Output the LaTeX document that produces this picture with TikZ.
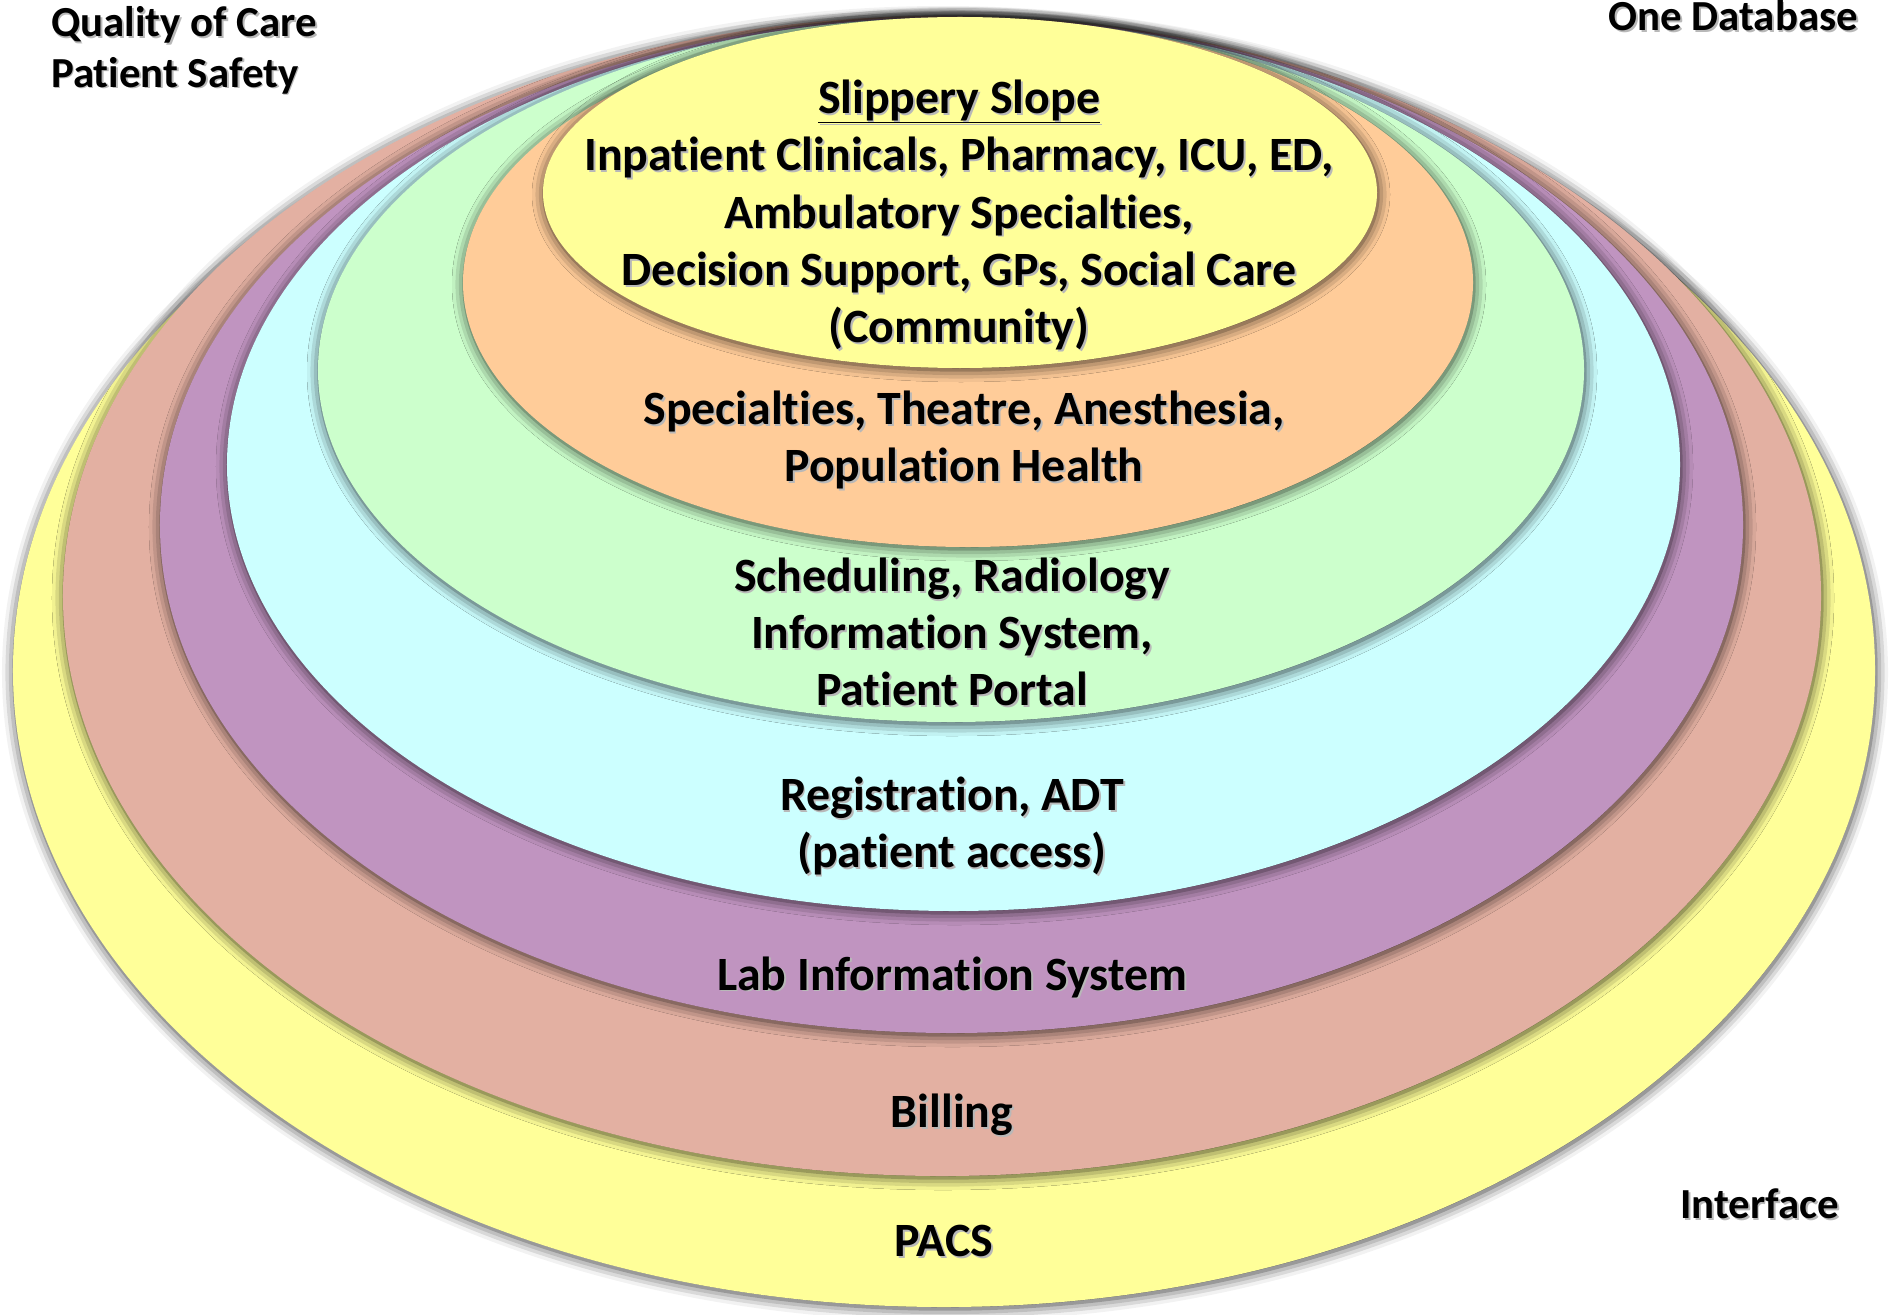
\documentclass[tikz,border=0pt]{standalone}
\usepackage{fontspec}
\setmainfont{Carlito}[Ligatures=CommonOff]
\usepackage{tikz}
\usetikzlibrary{shadows.blur}

\definecolor{pacsfill}{HTML}{FFFF99}
\definecolor{billfill}{HTML}{E3B0A2}
\definecolor{labfill}{HTML}{C094C0}
\definecolor{regfill}{HTML}{CCFFFF}
\definecolor{schedfill}{HTML}{CCFFCC}
\definecolor{specfill}{HTML}{FFCC99}
\definecolor{clinfill}{HTML}{FFFF99}

% text with a soft drop shadow
\newcommand{\shtxt}[1]{\leavevmode\rlap{\hspace{1.8bp}\raisebox{-1.8bp}{\textcolor{black!28}{#1}}}#1}

\tikzset{
  ring/.style={fill=#1,blur shadow={shadow xshift=1bp,shadow yshift=-2bp,shadow blur radius=12bp,shadow opacity=80}},
  lbl/.style={align=center,inner sep=0pt,font=\fontsize{48}{57.5}\selectfont\bfseries},
  corner/.style={align=left,inner sep=0pt,font=\fontsize{43}{51}\selectfont\bfseries},
}

\begin{document}
\begin{tikzpicture}[x=1bp,y=1bp]
\useasboundingbox (0,0) rectangle (1897,-1315);
%% layers, outermost first
\path [ring=pacsfill]  (944,-670.5) ellipse [x radius=931bp, y radius=636.5bp];
\path [ring=billfill]  (942,-596) ellipse [x radius=879bp, y radius=580bp];
\path [ring=labfill]   (951.5,-525) ellipse [x radius=791.5bp, y radius=508bp];
\path [ring=regfill]   (953.5,-464.5) ellipse [x radius=726.5bp, y radius=446.5bp];
\path [ring=schedfill] (951,-370) ellipse [x radius=633bp, y radius=352bp];
\path [ring=specfill]  (968,-282.5) ellipse [x radius=505bp, y radius=264.5bp];
\path [ring=clinfill]  (960,-192.5) ellipse [x radius=417bp, y radius=175.5bp];
%% labels
\node (clin) at (959,-216) [lbl] {\shtxt{\underline{Slippery Slope}}\\\shtxt{Inpatient Clinicals, Pharmacy, ICU, ED,}\\\shtxt{Ambulatory Specialties,}\\\shtxt{Decision Support, GPs, Social Care}\\\shtxt{(Community)}};
\node (spec) at (964,-441) [lbl] {\shtxt{Specialties, Theatre, Anesthesia,}\\\shtxt{Population Health}};
\node (sched) at (952,-633) [lbl] {\shtxt{Scheduling, Radiology}\\\shtxt{Information System,}\\\shtxt{Patient Portal}};
\node (reg) at (952,-827) [lbl] {\shtxt{Registration, ADT}\\\shtxt{(patient access)}};
\node (lab) at (952,-978) [lbl] {\shtxt{Lab Information System}};
\node (bill) at (952,-1116) [lbl] {\shtxt{Billing}};
\node (pacs) at (944,-1242) [lbl] {\shtxt{PACS}};
%
\node (quality) at (51,-51) [corner,anchor=west] {\shtxt{Quality of Care}\\\shtxt{Patient Safety}};
\node (onedb) at (1858,-17) [corner,anchor=east] {\shtxt{One Database}};
\node (iface) at (1680,-1205) [corner,anchor=west] {\shtxt{Interface}};
%
\end{tikzpicture}
\end{document}
